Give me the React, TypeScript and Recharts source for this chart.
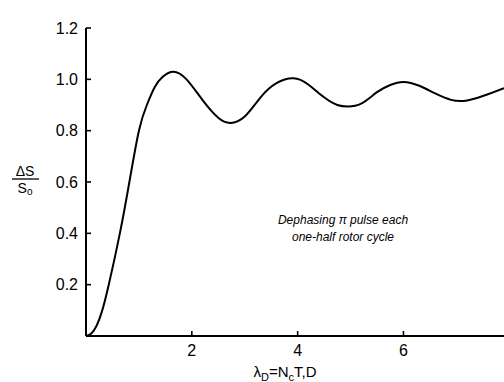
import React from "react";
import { LineChart, Line, XAxis, YAxis, Label, Customized } from "recharts";

const lambdaValues = [0, 0.1, 0.2, 0.3, 0.43, 0.64, 0.82, 1.0, 1.15, 1.3, 1.45, 1.65, 1.9, 2.2, 2.5, 2.73, 3.0, 3.3, 3.6, 3.92, 4.2, 4.5, 4.75, 4.95, 5.2, 5.5, 5.75, 6.0, 6.3, 6.6, 6.9, 7.18, 7.5, 7.9];
const signalValues = [0, 0.01, 0.04, 0.095, 0.2, 0.4, 0.6, 0.8, 0.9, 0.97, 1.01, 1.03, 1.0, 0.92, 0.85, 0.83, 0.855, 0.93, 0.985, 1.004, 0.98, 0.93, 0.9, 0.894, 0.905, 0.95, 0.978, 0.99, 0.975, 0.945, 0.92, 0.917, 0.935, 0.966];
const xTicks = [2, 4, 6];
const yTicks = [0.2, 0.4, 0.6, 0.8, 1.0, 1.2];
const noteLines = ["Dephasing \u03c0 pulse each", "one-half rotor cycle"];

const data = lambdaValues.map((x, i) => ({ x, y: signalValues[i] }));

const FONT = "'Liberation Sans', Arial, sans-serif";
const X_MARGIN = 7;
const Y_MARGIN = 8;
const TICK_LEN = 5;

const XTick = (props: any) => {
  const { x, y, payload } = props;
  const axisY = Number(y) - X_MARGIN;
  return (
    <g>
      <path d={`M${x},${axisY}L${x},${axisY - TICK_LEN}`} stroke="#000" strokeWidth={1.6} fill="none" />
      <text x={x} y={y} dy={13} textAnchor="middle" fontFamily={FONT} fontSize={16} fill="#000">
        {payload.value}
      </text>
    </g>
  );
};

const YTick = (props: any) => {
  const { x, y, payload } = props;
  const axisX = Number(x) + Y_MARGIN;
  return (
    <g>
      <path d={`M${axisX},${y}L${axisX + TICK_LEN},${y}`} stroke="#000" strokeWidth={1.6} fill="none" />
      <text x={x} y={y} dy={5.5} textAnchor="end" fontFamily={FONT} fontSize={16} fill="#000">
        {Number(payload.value).toFixed(1)}
      </text>
    </g>
  );
};

const XLabel = (props: any) => {
  const vb = props.viewBox;
  return (
    <text x={vb.x + 199} y={vb.y + 41} textAnchor="middle" fontFamily={FONT} fontSize={15} fill="#000">
      <tspan>λ</tspan>
      <tspan dy={4} fontSize={11}>D</tspan>
      <tspan dy={-4}>=N</tspan>
      <tspan dy={4} fontSize={11}>c</tspan>
      <tspan dy={-4}>T,D</tspan>
    </text>
  );
};

const YLabel = () => {
  return (
    <g fontFamily={FONT} fill="#000">
      <text x={25} y={176} textAnchor="middle" fontSize={14}>ΔS</text>
      <line x1={12} x2={39} y1={179} y2={179} stroke="#000" strokeWidth={1.3} />
      <text x={25} y={193} textAnchor="middle" fontSize={14}>
        <tspan>S</tspan>
        <tspan dy={2} fontSize={10}>o</tspan>
      </text>
    </g>
  );
};

const Note = () => (
  <g fontFamily={FONT} fontStyle="italic" fontSize={12} fill="#000">
    {noteLines.map((t, i) => (
      <text key={i} x={343} y={224 + i * 17} textAnchor="middle">{t}</text>
    ))}
  </g>
);

export default function App() {
  return (
    <div style={{ position: "absolute", left: 0, top: 0, width: 504, height: 382, background: "#fff" }}>
      <LineChart width={504} height={382} data={data} margin={{ top: 28, right: 0, bottom: 0, left: 0 }}>
        <XAxis
          dataKey="x"
          type="number"
          domain={[0, 7.9]}
          ticks={xTicks}
          allowDataOverflow
          height={46}
          axisLine={{ stroke: "#000", strokeWidth: 2 }}
          tickLine={false}
          tickSize={0}
          tickMargin={X_MARGIN}
          tick={XTick}
        >
          <Label content={<XLabel />} />
        </XAxis>
        <YAxis
          type="number"
          domain={[0, 1.2]}
          ticks={yTicks}
          width={86}
          axisLine={{ stroke: "#000", strokeWidth: 2 }}
          tickLine={false}
          tickSize={0}
          tickMargin={Y_MARGIN}
          tick={YTick}
        >
          <Label content={<YLabel />} />
        </YAxis>
        <Line
          type="natural"
          dataKey="y"
          stroke="#000"
          strokeWidth={2}
          dot={false}
          isAnimationActive={false}
        />
        <Customized component={<Note />} />
      </LineChart>
    </div>
  );
}
